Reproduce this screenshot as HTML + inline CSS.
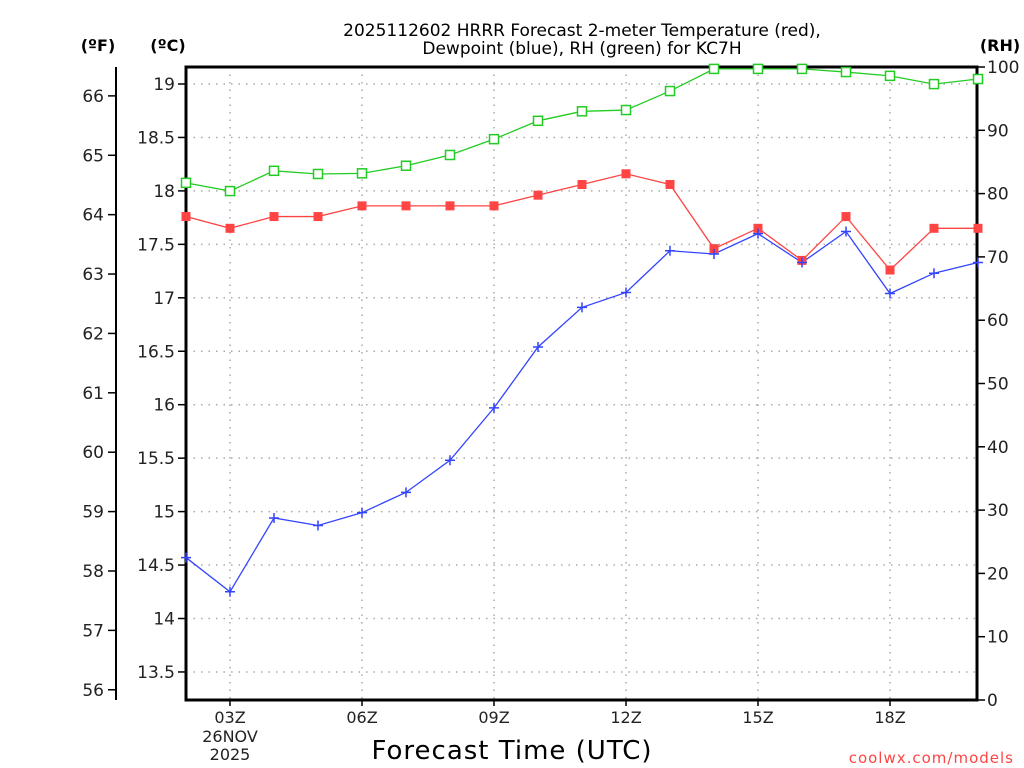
<!DOCTYPE html>
<html><head><meta charset="utf-8"><style>
html,body{margin:0;padding:0;background:#fff;width:1024px;height:768px;overflow:hidden}
svg text{font-family:"DejaVu Sans","Liberation Sans",sans-serif}
</style></head><body>
<svg id="chart" width="1024" height="768" viewBox="0 0 1024 768" xmlns="http://www.w3.org/2000/svg">
<text x="582" y="36" font-size="17" text-anchor="middle">2025112602 HRRR Forecast 2-meter Temperature (red),</text>
<text x="582" y="54" font-size="17" text-anchor="middle">Dewpoint (blue), RH (green) for KC7H</text>
<text x="98" y="51" font-size="16" font-weight="bold" text-anchor="middle">(ºF)</text>
<text x="168" y="51" font-size="16" font-weight="bold" text-anchor="middle">(ºC)</text>
<text x="1000" y="51" font-size="16" font-weight="bold" text-anchor="middle">(RH)</text>
<text x="512" y="759" font-size="26" text-anchor="middle" letter-spacing="1">Forecast Time (UTC)</text>
<text x="1014" y="763" font-size="15" fill="#ff4444" text-anchor="end" letter-spacing="1">coolwx.com/models</text>
<g id="grid"></g><g id="axes"></g><g id="series"></g>
</svg>
<script>
const hours=[2,3,4,5,6,7,8,9,10,11,12,13,14,15,16,17,18,19,20];
const tempC=[17.76,17.65,17.76,17.76,17.86,17.86,17.86,17.86,17.96,18.06,18.16,18.06,17.46,17.65,17.35,17.76,17.26,17.65,17.65];
const dewC=[14.57,14.25,14.94,14.87,14.99,15.18,15.48,15.97,16.54,16.91,17.05,17.44,17.41,17.60,17.33,17.62,17.04,17.23,17.33];
const rh=[81.7,80.4,83.6,83.1,83.2,84.4,86.1,88.6,91.5,93.0,93.2,96.2,99.7,99.7,99.7,99.2,98.6,97.3,98.1];
const cTicks=[13.5,14,14.5,15,15.5,16,16.5,17,17.5,18,18.5,19];
const fTicks=[56,57,58,59,60,61,62,63,64,65,66];
const rhTicks=[0,10,20,30,40,50,60,70,80,90,100];
const xTicks=[3,6,9,12,15,18];
const xLabels=["03Z","06Z","09Z","12Z","15Z","18Z"];

const L=186,R=977,T=67,B=700;
const xs=h=>L+(h-2)*44;
const yC=c=>84+(19-c)*106.9;
const yF=f=>yC((f-32)/1.8);
const yRH=v=>B-v*6.33;
const NS="http://www.w3.org/2000/svg";
function mk(tag,attrs,parent,text){const e=document.createElementNS(NS,tag);for(const k in attrs)e.setAttribute(k,attrs[k]);if(text!==undefined)e.textContent=text;parent.appendChild(e);return e;}
const grid=document.getElementById('grid'),axes=document.getElementById('axes'),ser=document.getElementById('series');

cTicks.forEach(c=>{const y=yC(c);
 const g=mk('line',{x1:L,x2:R,y1:y,y2:y,stroke:'#aaa','stroke-width':1.5,'stroke-dasharray':'1.5 6'},grid);
 
 mk('line',{x1:L-8,x2:L,y1:y,y2:y,stroke:'#000','stroke-width':1.5},axes);
 const t=mk('text',{x:L-11,y:y+6,'font-size':17,'text-anchor':'end',fill:'#222'},axes,String(c));
 });
xTicks.forEach((h,i)=>{const x=xs(h);
 const g=mk('line',{x1:x,x2:x,y1:T,y2:B,stroke:'#aaa','stroke-width':1.5,'stroke-dasharray':'1.5 6'},grid);
 
 mk('line',{x1:x,x2:x,y1:B,y2:B+6,stroke:'#000','stroke-width':1.5},axes);
 const t=mk('text',{x:x,y:B+23,'font-size':16,'text-anchor':'middle',fill:'#222'},axes,xLabels[i]);
 });
const d1=mk('text',{x:xs(3),y:B+42,'font-size':16,'text-anchor':'middle',fill:'#222'},axes,'26NOV');

const d2=mk('text',{x:xs(3),y:B+60,'font-size':16,'text-anchor':'middle',fill:'#222'},axes,'2025');


const fa=mk('line',{x1:116,x2:116,y1:T,y2:B,stroke:'#000','stroke-width':2},axes);

fTicks.forEach(f=>{const y=yF(f);
 mk('line',{x1:108,x2:116,y1:y,y2:y,stroke:'#000','stroke-width':1.5},axes);
 const t=mk('text',{x:104,y:y+6,'font-size':17,'text-anchor':'end',fill:'#222'},axes,String(f));
 });
rhTicks.forEach(v=>{const y=yRH(v);
 mk('line',{x1:R,x2:R+8,y1:y,y2:y,stroke:'#000','stroke-width':1.5},axes);
 const t=mk('text',{x:R+10,y:y+6,'font-size':17,'text-anchor':'start',fill:'#222'},axes,String(v));
 });
const fr=mk('rect',{x:L,y:T,width:R-L,height:B-T,fill:'none',stroke:'#000','stroke-width':3},axes);


function line(vals,yf,color,name){
 const p=mk('polyline',{points:vals.map((v,i)=>xs(hours[i])+','+yf(v)).join(' '),fill:'none',stroke:color,'stroke-width':1.3},ser);
 }
line(rh,yRH,'#22cc22','rh-line');
line(tempC,yC,'#ff4444','temperature-line');
line(dewC,yC,'#3344ff','dewpoint-line');
rh.forEach((v,i)=>{const m=mk('rect',{x:xs(hours[i])-4.5,y:yRH(v)-4.5,width:9,height:9,fill:'#fff',stroke:'#22cc22','stroke-width':1.5},ser);
 });
tempC.forEach((v,i)=>{const m=mk('rect',{x:xs(hours[i])-4.5,y:yC(v)-4.5,width:9,height:9,fill:'#ff4444'},ser);
 });
dewC.forEach((v,i)=>{const x=xs(hours[i]),y=yC(v);
 const m=mk('path',{d:`M${x-5},${y}H${x+5}M${x},${y-5}V${y+5}`,stroke:'#3344ff','stroke-width':1.5},ser);
 });
</script>
</body></html>
